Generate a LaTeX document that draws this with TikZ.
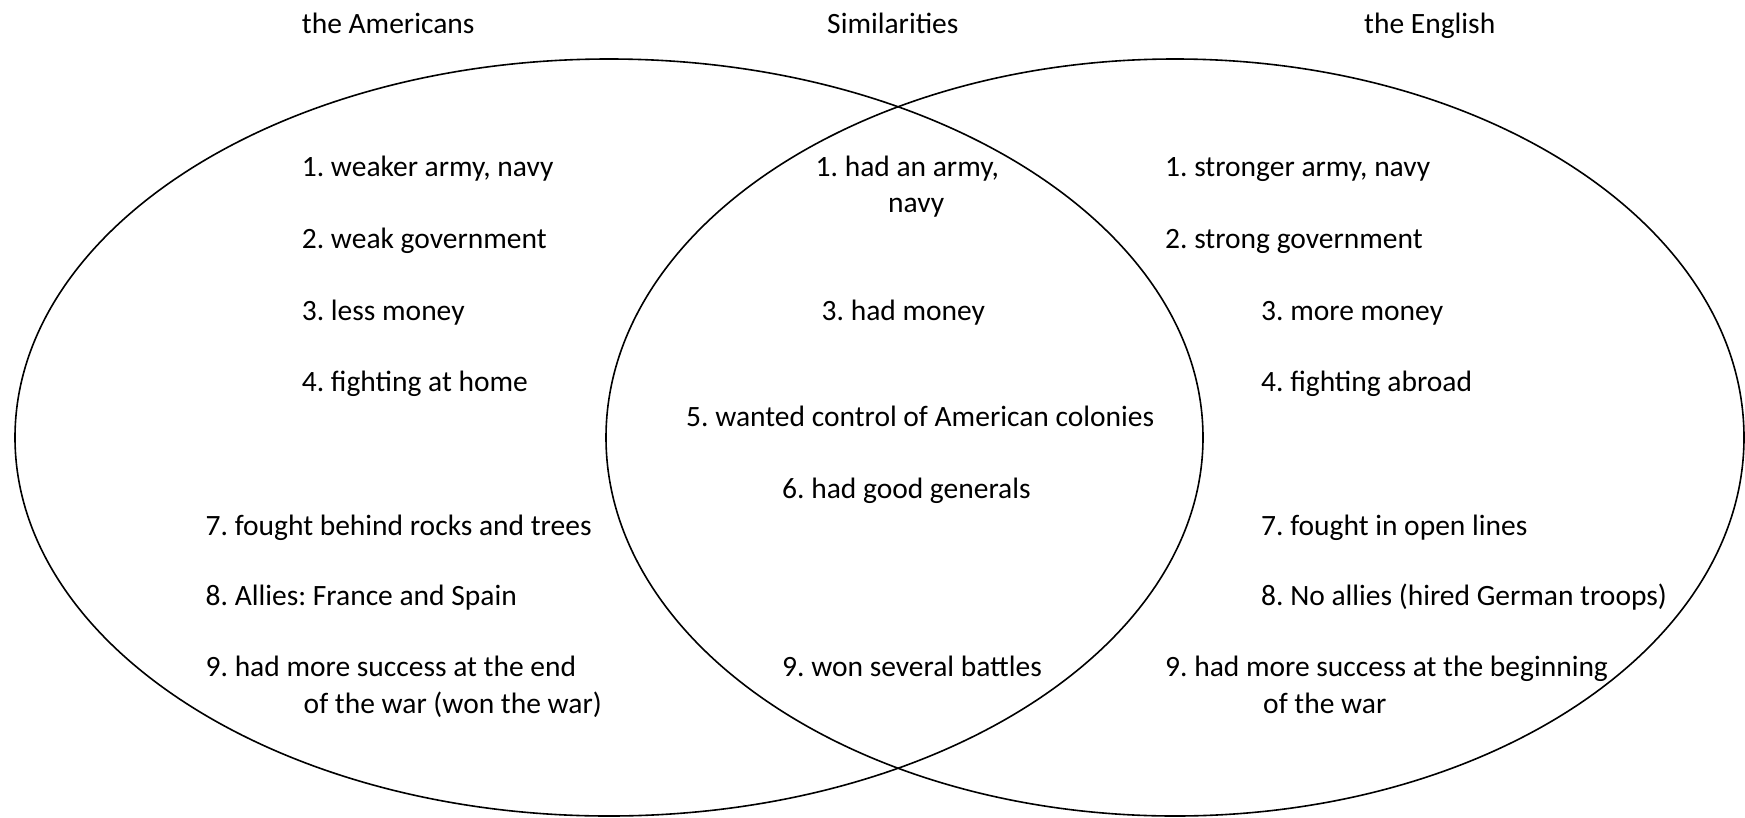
\documentclass[tikz,border=0pt]{standalone}
\usepackage{fontspec}
\setmainfont{Carlito}
\frenchspacing
\begin{document}
\begin{tikzpicture}[x=1pt,y=-1pt,
  txt/.style={anchor=base west,inner sep=0pt,font=\fontsize{29.5}{36}\selectfont\frenchspacing},
  ring/.style={draw=black,line width=1.6pt}]
\useasboundingbox (0,0) rectangle (1745,817);
% ellipses
\draw[ring] (609,437.5) ellipse [x radius=594pt, y radius=378.5pt];
\draw[ring] (1175,437.5) ellipse [x radius=569pt, y radius=378.5pt];
% headers
\node[txt] (hA) at (301.7,33.3) {the Americans};
\node[txt] (hS) at (827,33.3) {Similarities};
\node[txt] (hE) at (1364,33.3) {the English};
% Americans
\node[txt] (a1) at (301.7,176.7) {1. weaker army, navy};
\node[txt] (a2) at (301.7,248.3) {2. weak government};
\node[txt] (a3) at (301.7,320) {3. less money};
\node[txt] (a4) at (301.7,391.7) {4. fighting at home};
\node[txt] (a7) at (205.5,535) {7. fought behind rocks and trees};
\node[txt] (a8) at (205.5,605) {8. Allies: France and Spain};
\node[txt] (a9) at (205.5,676.7) {9. had more success at the end};
\node[txt] (a9b) at (303.5,713) {of the war (won the war)};
% Similarities
\node[txt] (s1) at (815.5,176.7) {1. had an army,};
\node[txt] (s1b) at (888,212.7) {navy};
\node[txt] (s3) at (821.5,320) {3. had money};
\node[txt] (s5) at (686,426.7) {5. wanted control of American colonies};
\node[txt] (s6) at (782,498.3) {6. had good generals};
\node[txt] (s9) at (782,676.7) {9. won several battles};
% English
\node[txt] (e1) at (1165,176.7) {1. stronger army, navy};
\node[txt] (e2) at (1165,248.3) {2. strong government};
\node[txt] (e3) at (1261,320) {3. more money};
\node[txt] (e4) at (1261,391.7) {4. fighting abroad};
\node[txt] (e7) at (1261,535) {7. fought in open lines};
\node[txt] (e8) at (1261,605) {8. No allies (hired German troops)};
\node[txt] (e9) at (1165,676.7) {9. had more success at the beginning};
\node[txt] (e9b) at (1263,713) {of the war};
\end{tikzpicture}
\end{document}
